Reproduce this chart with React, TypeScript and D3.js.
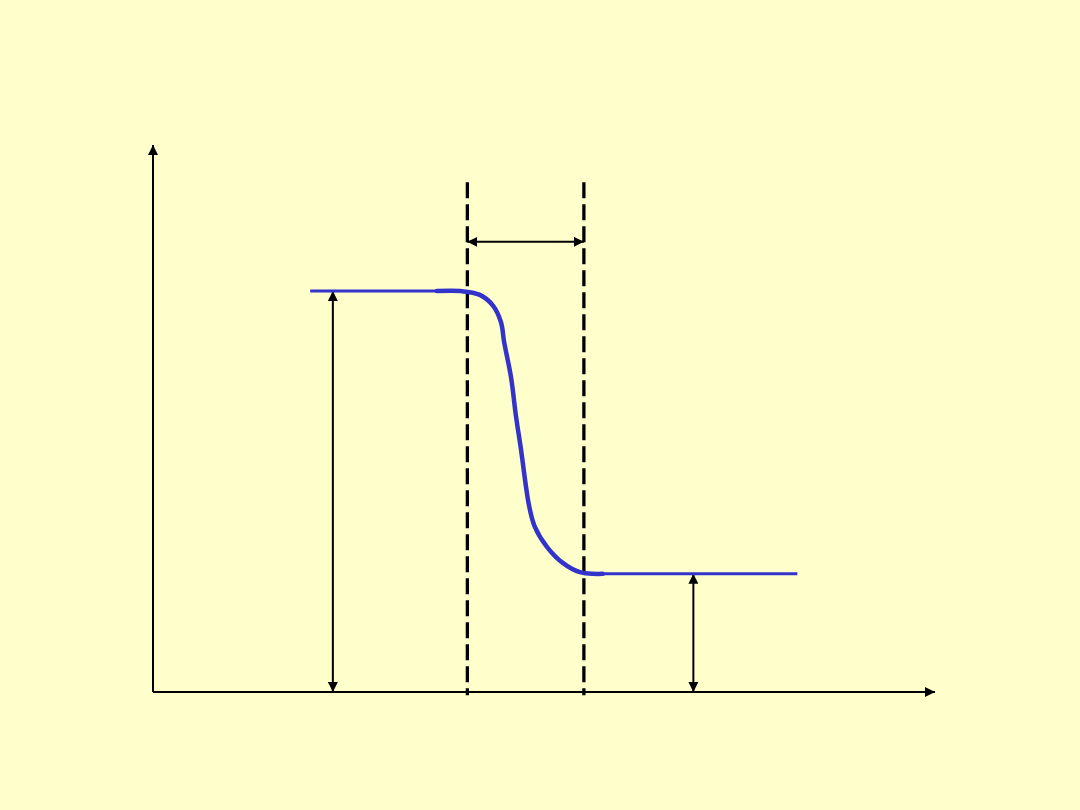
import React from "react";
import * as d3 from "d3";

// Data in abstract units (0..100 on both axes)
const curveX = [36.3, 39.3, 41.8, 43.5, 44.5, 44.9, 45.8, 46.4, 47.1, 47.7, 48.1, 48.8, 50.4, 52.4, 54.6, 57.5];
const curveY = [73.3, 73.3, 72.6, 70.6, 67.6, 64.0, 57.4, 50.6, 43.9, 37.5, 34.0, 30.3, 26.5, 23.6, 21.9, 21.6];
const highLevel = 73.3;
const lowLevel = 21.6;
const highStartX = 20.1;
const lowEndX = 82.4;
const dashedX = [40.2, 55.1];
const dashedTop = 93.2;
const dashedBottom = -0.6;
const spanArrowY = 82.3;
const leftArrowX = 23.0;
const rightArrowX = 69.1;

const W = 1080;
const H = 810;

export default function App() {
  const x = d3.scaleLinear().domain([0, 100]).range([153, 935]);
  const y = d3.scaleLinear().domain([0, 100]).range([692, 145]);

  const pts: [number, number][] = curveX.map((v, i) => [v, curveY[i]]);
  const curvePath = d3
    .line<[number, number]>()
    .x((d) => x(d[0]))
    .y((d) => y(d[1]))
    .curve(d3.curveCatmullRom.alpha(0.5))(pts) as string;

  const blue = "#3333CC";
  const bg = "#FFFFCC";

  return (
    <svg
      width={W}
      height={H}
      style={{ position: "absolute", left: 0, top: 0, display: "block" }}
    >
      <defs>
        <marker id="axisHead" viewBox="0 0 10 10" refX="10" refY="5" markerWidth="10" markerHeight="10" markerUnits="userSpaceOnUse" orient="auto">
          <path d="M0,0 L10,5 L0,10 Z" fill="#000" />
        </marker>
        <marker id="head" viewBox="0 0 10 10" refX="10" refY="5" markerWidth="10" markerHeight="10" markerUnits="userSpaceOnUse" orient="auto-start-reverse">
          <path d="M0,0 L10,5 L0,10 Z" fill="#000" />
        </marker>
      </defs>
      <rect x={0} y={0} width={W} height={H} fill={bg} />

      {/* axes */}
      <line x1={x(0)} y1={y(0)} x2={x(0)} y2={y(100)} stroke="#000" strokeWidth={2} markerEnd="url(#axisHead)" />
      <line x1={x(0)} y1={y(0)} x2={x(100)} y2={y(0)} stroke="#000" strokeWidth={2} markerEnd="url(#axisHead)" />

      {/* dashed lines */}
      {dashedX.map((d, i) => (
        <line key={i} x1={x(d)} y1={y(dashedTop)} x2={x(d)} y2={y(dashedBottom)} stroke="#000" strokeWidth={3.3} strokeDasharray="16,6" />
      ))}

      {/* span arrow */}
      <line x1={x(dashedX[0])} y1={y(spanArrowY)} x2={x(dashedX[1])} y2={y(spanArrowY)} stroke="#000" strokeWidth={2} markerStart="url(#head)" markerEnd="url(#head)" />

      {/* left height arrow */}
      <line x1={x(leftArrowX)} y1={y(highLevel)} x2={x(leftArrowX)} y2={y(0)} stroke="#000" strokeWidth={2} markerStart="url(#head)" markerEnd="url(#head)" />
      {/* right height arrow */}
      <line x1={x(rightArrowX)} y1={y(lowLevel)} x2={x(rightArrowX)} y2={y(0)} stroke="#000" strokeWidth={2} markerStart="url(#head)" markerEnd="url(#head)" />

      {/* blue levels */}
      <line x1={x(highStartX)} y1={y(highLevel)} x2={x(curveX[0])} y2={y(highLevel)} stroke={blue} strokeWidth={3} />
      <line x1={x(dashedX[1])} y1={y(lowLevel)} x2={x(lowEndX)} y2={y(lowLevel)} stroke={blue} strokeWidth={3} />
      <path d={curvePath} fill="none" stroke={blue} strokeWidth={4.5} strokeLinecap="round" />
    </svg>
  );
}
